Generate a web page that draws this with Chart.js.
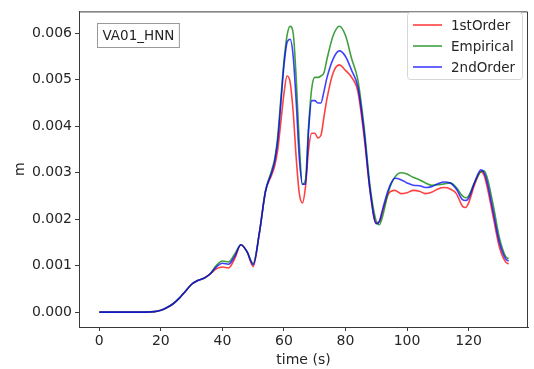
<!DOCTYPE html>
<html>
<head>
<meta charset="utf-8">
<script src="https://cdn.jsdelivr.net/npm/chart.js@4"></script>
<style>
  html, body { margin: 0; padding: 0; background: #fff; }
  #wrap { width: 534px; height: 369px; }
</style>
</head>
<body>
<div id="wrap"><canvas id="chart" width="534" height="369"></canvas></div>
<script>
// time (s)
const times = [0, 5, 10, 15, 18, 20, 22, 24, 26, 28, 30, 32, 34, 36, 38, 40, 42, 44, 46, 48, 50,
    52, 54, 56, 57, 58, 59, 60, 61, 62, 63, 64, 65, 66, 67, 68, 69, 70, 71, 72, 73, 74, 76, 78,
    80, 82, 84, 86, 88, 90, 91, 92, 94, 96, 98, 100, 102, 104, 106, 108, 110, 112, 114, 116,
    118, 119, 120, 122, 124, 125, 126, 128, 130, 132, 133];

// values in mm (x 1e-3 m)
const firstOrder = [0, 0, 0, 0, 0.01, 0.04, 0.1, 0.18, 0.3, 0.45, 0.6, 0.68, 0.73, 0.82, 0.93, 0.97, 0.95, 1.15, 1.45, 1.3, 0.98,
    1.7, 2.6, 2.95, 3.15, 3.5, 4.1, 4.7, 5.08, 4.95, 4.3, 3.3, 2.55, 2.35, 2.7, 3.5, 3.85, 3.85, 3.75, 3.8, 4.2, 4.6, 5.15, 5.32,
    5.2, 5.05, 4.75, 3.8, 2.6, 1.92, 1.95, 2.15, 2.55, 2.62, 2.55, 2.57, 2.62, 2.6, 2.55, 2.58, 2.65, 2.68, 2.65, 2.55,
    2.28, 2.25, 2.35, 2.75, 3.02, 2.95, 2.7, 2.05, 1.4, 1.08, 1.04];
const empirical = [0, 0, 0, 0, 0.01, 0.04, 0.1, 0.18, 0.3, 0.45, 0.6, 0.68, 0.73, 0.82, 1.0, 1.1, 1.08, 1.25, 1.45, 1.3, 1.05,
    1.7, 2.6, 3.05, 3.3, 3.8, 4.6, 5.4, 5.95, 6.15, 6.0, 5.0, 3.6, 2.75, 2.85, 4.0, 4.8, 5.05, 5.05, 5.08, 5.15, 5.45, 5.95, 6.15,
    5.95, 5.45, 5.0, 4.0, 2.7, 1.95, 1.88, 2.05, 2.6, 2.9, 3.0, 2.97, 2.9, 2.85, 2.78, 2.73, 2.74, 2.76, 2.78, 2.68,
    2.5, 2.46, 2.5, 2.8, 3.02, 3.04, 2.9, 2.3, 1.6, 1.2, 1.15];
const secondOrder = [0, 0, 0, 0, 0.01, 0.04, 0.1, 0.18, 0.3, 0.45, 0.6, 0.68, 0.73, 0.82, 0.97, 1.05, 1.03, 1.2, 1.45, 1.3, 1.02,
    1.7, 2.6, 3.0, 3.25, 3.7, 4.5, 5.3, 5.8, 5.87, 5.5, 4.5, 3.3, 2.75, 2.75, 3.9, 4.55, 4.55, 4.5, 4.5, 4.75, 5.05, 5.45, 5.62,
    5.5, 5.2, 4.85, 3.9, 2.6, 1.9, 1.95, 2.2, 2.65, 2.88, 2.85, 2.78, 2.73, 2.72, 2.68, 2.7, 2.76, 2.8, 2.78, 2.65,
    2.42, 2.4, 2.45, 2.8, 3.06, 3.0, 2.8, 2.15, 1.5, 1.15, 1.1];

const seriesNames = ['1stOrder', 'Empirical', '2ndOrder'];
const seriesColors = ['rgba(255,0,0,0.75)', 'rgba(0,128,0,0.75)', 'rgba(0,0,255,0.75)'];
const xTicks = [0, 20, 40, 60, 80, 100, 120];
const yTicks = [0, 0.001, 0.002, 0.003, 0.004, 0.005, 0.006];
const stationLabel = 'VA01_HNN';

const toPoints = (vals) => times.map((t, i) => ({ x: t, y: vals[i] / 1000 }));

const FONT = 'DejaVu Sans';
const TEXT = '#262626';
const AXIS = '#3a3a3a';

// top/right spines, station box and legend
const extras = {
    id: 'extras',
    afterDraw(chart) {
        const { ctx, chartArea: a } = chart;
        ctx.save();
        ctx.strokeStyle = AXIS;
        ctx.lineWidth = 1;
        ctx.beginPath();
        ctx.moveTo(a.left, a.top + 0.5);
        ctx.lineTo(a.right - 0.5, a.top + 0.5);
        ctx.lineTo(a.right - 0.5, a.bottom);
        ctx.stroke();

        // station label box
        ctx.font = '13.5px "' + FONT + '"';
        ctx.textBaseline = 'middle';
        const tw = ctx.measureText(stationLabel).width;
        ctx.fillStyle = '#fff';
        ctx.fillRect(97.5, 23.5, tw + 10, 24);
        ctx.strokeStyle = '#999';
        ctx.strokeRect(97.5, 23.5, tw + 10, 24);
        ctx.fillStyle = TEXT;
        ctx.fillText(stationLabel, 102.5, 36);

        // legend
        const lx = 407, ly = 12, lw = 115, lh = 67;
        ctx.fillStyle = 'rgba(255,255,255,0.8)';
        ctx.strokeStyle = '#d6d6d6';
        ctx.beginPath();
        ctx.roundRect(lx + 0.5, ly + 0.5, lw, lh, 3);
        ctx.fill();
        ctx.stroke();
        seriesNames.forEach((name, i) => {
            const y = ly + 13 + i * 21;
            ctx.strokeStyle = seriesColors[i];
            ctx.lineWidth = 1.6;
            ctx.beginPath();
            ctx.moveTo(lx + 6, y);
            ctx.lineTo(lx + 35, y);
            ctx.stroke();
            ctx.fillStyle = TEXT;
            ctx.fillText(name, lx + 44, y + 1);
        });
        ctx.restore();
    }
};

const chartConf = {
    type: 'line',
    data: {
        datasets: seriesNames.map((name, i) => ({
            label: name,
            data: toPoints([firstOrder, empirical, secondOrder][i]),
            borderColor: seriesColors[i],
            borderWidth: 1.6,
            pointRadius: 0,
            fill: false,
            order: 2 - i, // blue drawn last, on top
            cubicInterpolationMode: 'monotone'
        }))
    },
    options: {
        responsive: false,
        animation: false,
        layout: { padding: { top: 7, right: 6, left: 0, bottom: 0 } },
        plugins: {
            legend: { display: false },
            tooltip: { enabled: false }
        },
        scales: {
            x: {
                type: 'linear',
                min: -6.6,
                max: 139.3,
                afterBuildTicks: (scale) => { scale.ticks = xTicks.map(v => ({ value: v })); },
                afterFit: (scale) => { scale.height = 42; },
                grid: { drawOnChartArea: false, drawTicks: true, tickLength: 4, color: AXIS },
                border: { display: true, color: AXIS, width: 1 },
                ticks: { color: TEXT, font: { family: FONT, size: 14 }, padding: 2, maxRotation: 0 },
                title: { display: true, text: 'time (s)', color: TEXT, font: { family: FONT, size: 14 }, padding: { top: 0, bottom: 0 } }
            },
            y: {
                type: 'linear',
                min: -0.00032,
                max: 0.00647,
                afterBuildTicks: (scale) => { scale.ticks = yTicks.map(v => ({ value: v })); },
                afterFit: (scale) => { scale.width = 79; },
                grid: { drawOnChartArea: false, drawTicks: true, tickLength: 4, color: AXIS },
                border: { display: true, color: AXIS, width: 1 },
                ticks: {
                    color: TEXT, font: { family: FONT, size: 14 }, padding: 3,
                    callback: (v) => v.toFixed(3)
                },
                title: { display: true, text: 'm', color: TEXT, font: { family: FONT, size: 14 }, padding: { top: 12, bottom: 0 } }
            }
        }
    },
    plugins: [extras]
};

new Chart(document.getElementById('chart'), chartConf);
</script>
</body>
</html>
